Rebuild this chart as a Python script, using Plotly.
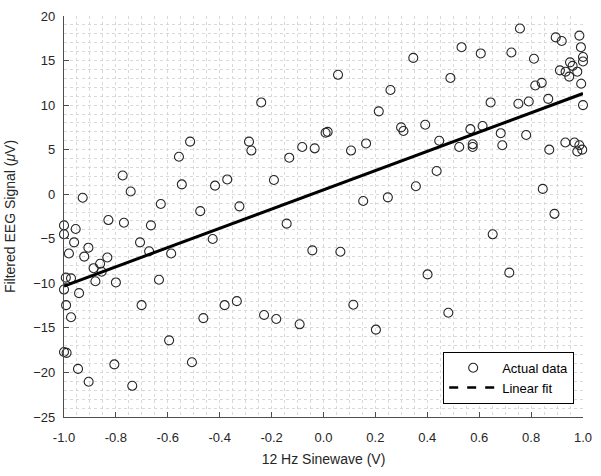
import plotly.graph_objects as go

# Scatter data: 12 Hz sinewave (V) vs filtered EEG signal (uV)
sine_v = [
    -0.514, -0.557, -0.240, 0.056, 0.258, 0.213, 0.008, 0.016, -0.287, -0.278,
    -0.132, -0.082, -0.034, 0.106, 0.164,
    0.757, 0.895, 0.918, 0.986, 0.992, 1.0, 1.0, 0.950, 0.960, 0.978,
    0.911, 0.933, 0.947, 0.993, 0.532, 0.606, 0.724, 0.811, 0.346, 0.489,
    0.816, 0.841, 0.644, 0.751, 0.791, 0.866, 1.0, 0.299, 0.308, 0.392,
    0.566, 0.613, 0.446, 0.523, 0.575, 0.575, 0.683, 0.689, 0.781, 0.870,
    0.932, 0.967, 0.986, 0.978, 0.997,
    -0.774, -0.743, -0.546, -0.928, -0.627, -0.475, -0.829, -0.769, -0.665, -1.0,
    -0.955, -1.0, -0.961, -0.707, -0.906, -0.981, -0.672, -0.587, -0.922, -0.833,
    -0.861, -0.886, -0.855, -0.993, -0.973, -0.879, -0.800, -0.634, -1.0, -0.942,
    -0.992, -0.701,
    -0.973, -0.595, -1.0, -0.99, -0.806, -0.507, -0.946, -0.905, -0.737,
    -0.463, -0.381, -0.334, -0.229, -0.182, -0.092, 0.115, 0.202,
    -0.418, -0.371, -0.191, -0.324, 0.153, 0.248, -0.142, -0.427, -0.043, 0.065,
    0.436, 0.356, 0.845, 0.890, 0.652, 0.401, 0.716, 0.481,
]
eeg_uv = [
    5.9, 4.2, 10.3, 13.4, 11.7, 9.3, 6.9, 7.0, 5.9, 4.9,
    4.1, 5.3, 5.15, 4.9, 5.7,
    18.6, 17.6, 17.2, 17.8, 16.5, 15.4, 14.9, 14.8, 14.4, 13.75,
    13.9, 13.75, 13.2, 12.4, 16.5, 15.8, 15.9, 15.2, 15.3, 13.05,
    12.2, 12.5, 10.3, 10.15, 10.4, 10.7, 10.0, 7.5, 7.1, 7.8,
    7.3, 7.65, 6.0, 5.3, 5.6, 5.3, 6.85, 5.5, 6.65, 5.0,
    5.8, 5.8, 5.5, 4.8, 5.0,
    2.1, 0.3, 1.1, -0.4, -1.1, -1.9, -2.9, -3.2, -3.5, -3.5,
    -3.9, -4.5, -5.4, -5.4, -6.0, -6.65, -6.4, -6.65, -7.0, -7.1,
    -7.8, -8.3, -8.7, -9.36, -9.44, -9.77, -9.9, -9.6, -10.7, -11.1,
    -12.45, -12.45,
    -13.8, -16.4, -17.7, -17.8, -19.1, -18.85, -19.6, -21.05, -21.5,
    -13.9, -12.45, -12.0, -13.55, -14.0, -14.6, -12.4, -15.2,
    0.96, 1.66, 1.6, -1.36, -0.76, -0.35, -3.3, -5.03, -6.3, -6.46,
    2.6, 0.9, 0.6, -2.2, -4.5, -9.0, -8.8, -13.3,
]

# Linear fit line endpoints
fit_x = [-1.0, 1.0]
fit_y = [-10.3, 11.3]

x_ticks = [-1.0, -0.8, -0.6, -0.4, -0.2, 0.0, 0.2, 0.4, 0.6, 0.8, 1.0]
x_tick_labels = ["-1.0", "-0.8", "-0.6", "-0.4", "-0.2", "0.0", "0.2", "0.4", "0.6", "0.8", "1.0"]
y_ticks = [-25, -20, -15, -10, -5, 0, 5, 10, 15, 20]

FONT = "Liberation Sans, Arial, sans-serif"
TXT = "#262626"

fig = go.Figure()
fig.add_trace(go.Scatter(
    x=sine_v, y=eeg_uv, mode="markers", name="Actual data",
    marker=dict(symbol="circle-open", size=9, color="#262626", line=dict(width=1.1)),
    cliponaxis=False,
))
fig.add_trace(go.Scatter(
    x=fit_x, y=fit_y, mode="lines", name="Linear fit", showlegend=False,
    line=dict(color="black", width=3),
))
# legend entry (dashed style as in the reference legend)
fig.add_trace(go.Scatter(
    x=[None], y=[None], mode="lines", name="Linear fit",
    line=dict(color="black", width=2.5, dash="dash"),
))

grid_col = "#d9d9d9"
fig.update_layout(
    width=601, height=476,
    margin=dict(l=64, r=18, t=9, b=59),
    paper_bgcolor="white", plot_bgcolor="white",
    font=dict(family=FONT, size=13, color=TXT),
    showlegend=True,
    legend=dict(
        x=0.983, y=0.033, xanchor="right", yanchor="bottom",
        bgcolor="white", bordercolor="black", borderwidth=1,
        font=dict(family=FONT, size=13, color="black"),
        tracegroupgap=0, itemwidth=48,
    ),
    xaxis=dict(
        range=[-1, 1], tickvals=x_ticks, ticktext=x_tick_labels,
        ticks="inside", ticklen=5, tickcolor="#4d4d4d", tickwidth=1,
        showline=True, linecolor="#4d4d4d", linewidth=1.3, mirror=False,
        showgrid=True, gridcolor=grid_col, griddash="dot", gridwidth=1,
        minor=dict(dtick=0.05, tick0=-1, showgrid=True, gridcolor=grid_col, griddash="dot", gridwidth=1),
        zeroline=False, ticklabelstandoff=8,
        title=dict(text="12 Hz Sinewave (V)", font=dict(size=14, color=TXT), standoff=10),
        tickfont=dict(size=13, color=TXT),
    ),
    yaxis=dict(
        range=[-25, 20], tickvals=y_ticks,
        ticks="inside", ticklen=5, tickcolor="#4d4d4d", tickwidth=1,
        showline=True, linecolor="#4d4d4d", linewidth=1.3, mirror=False,
        showgrid=True, gridcolor=grid_col, griddash="dot", gridwidth=1,
        minor=dict(dtick=1, tick0=0, showgrid=True, gridcolor=grid_col, griddash="dot", gridwidth=1),
        zeroline=False, ticklabelstandoff=5,
        title=dict(text="Filtered EEG Signal (<i>μ</i>V)", font=dict(size=14, color=TXT), standoff=14),
        tickfont=dict(size=13, color=TXT),
    ),
)

fig.write_html("out.html")
